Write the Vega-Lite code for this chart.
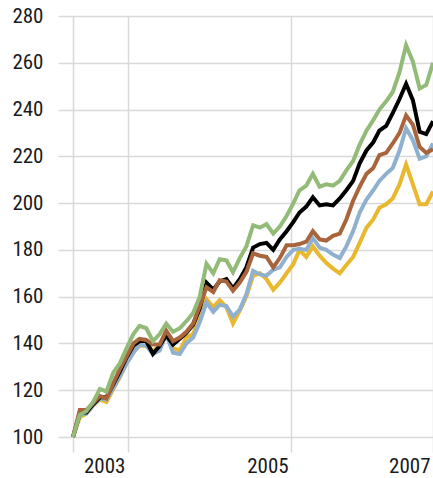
{
  "$schema": "https://vega.github.io/schema/vega-lite/v6.json",
  "width": 360,
  "height": 421,
  "autosize": {"type": "none"},
  "padding": {"left": 73, "top": 16, "right": 0, "bottom": 41},
  "background": "white",
  "config": {
    "view": {"stroke": null},
    "axis": {
      "labelFont": "Liberation Sans Narrow, Roboto Condensed, Arial Narrow, Roboto, sans-serif",
      "labelFontSize": 21,
      "labelColor": "#1a1a1a",
      "gridColor": "#d9d9d9",
      "gridWidth": 1.5,
      "tickColor": "#d9d9d9",
      "tickWidth": 1.5,
      "tickSize": 15,
      "domain": false,
      "title": null
    }
  },
  "data": {
    "values": [
      {"date": "2002-05-01", "Green": 100, "Black": 100, "Brown": 100, "Blue": 100, "Yellow": 100},
      {"date": "2002-06-01", "Green": 109.5, "Black": 110, "Brown": 111.5, "Blue": 109.5, "Yellow": 108.5},
      {"date": "2002-07-01", "Green": 111, "Black": 110.5, "Brown": 111.5, "Blue": 110, "Yellow": 110},
      {"date": "2002-08-01", "Green": 115, "Black": 114, "Brown": 114.5, "Blue": 113.5, "Yellow": 113.5},
      {"date": "2002-09-01", "Green": 120.5, "Black": 117, "Brown": 117.5, "Blue": 116.5, "Yellow": 116},
      {"date": "2002-10-01", "Green": 119.5, "Black": 117, "Brown": 116.5, "Blue": 116, "Yellow": 115},
      {"date": "2002-11-01", "Green": 127.5, "Black": 122.5, "Brown": 123, "Blue": 121, "Yellow": 120.5},
      {"date": "2002-12-01", "Green": 131.5, "Black": 128, "Brown": 129, "Blue": 126, "Yellow": 125.5},
      {"date": "2003-01-01", "Green": 138, "Black": 134, "Brown": 134.5, "Blue": 131.5, "Yellow": 131.5},
      {"date": "2003-02-01", "Green": 144, "Black": 139, "Brown": 140, "Blue": 136, "Yellow": 136.5},
      {"date": "2003-03-01", "Green": 147.5, "Black": 141, "Brown": 142, "Blue": 139.5, "Yellow": 139},
      {"date": "2003-04-01", "Green": 146.5, "Black": 141, "Brown": 141.5, "Blue": 139, "Yellow": 139},
      {"date": "2003-05-01", "Green": 141, "Black": 135.5, "Brown": 139.5, "Blue": 135.5, "Yellow": 137},
      {"date": "2003-06-01", "Green": 144, "Black": 139, "Brown": 139.5, "Blue": 137, "Yellow": 138.5},
      {"date": "2003-07-01", "Green": 148.5, "Black": 143.5, "Brown": 145.5, "Blue": 144, "Yellow": 144},
      {"date": "2003-08-01", "Green": 145, "Black": 139.5, "Brown": 141, "Blue": 136, "Yellow": 138},
      {"date": "2003-09-01", "Green": 146.5, "Black": 142, "Brown": 142.5, "Blue": 135.5, "Yellow": 137},
      {"date": "2003-10-01", "Green": 149.5, "Black": 144.5, "Brown": 145, "Blue": 140, "Yellow": 142.5},
      {"date": "2003-11-01", "Green": 153, "Black": 148, "Brown": 148.5, "Blue": 142.5, "Yellow": 144},
      {"date": "2003-12-01", "Green": 160, "Black": 155, "Brown": 156, "Blue": 149, "Yellow": 152},
      {"date": "2004-01-01", "Green": 174, "Black": 166, "Brown": 164, "Blue": 157.5, "Yellow": 159},
      {"date": "2004-02-01", "Green": 170, "Black": 163, "Brown": 162, "Blue": 153.5, "Yellow": 155.5},
      {"date": "2004-03-01", "Green": 176, "Black": 166.5, "Brown": 167, "Blue": 156.5, "Yellow": 158.5},
      {"date": "2004-04-01", "Green": 175.5, "Black": 167.5, "Brown": 166.5, "Blue": 156, "Yellow": 155.5},
      {"date": "2004-05-01", "Green": 170.5, "Black": 163.5, "Brown": 162.5, "Blue": 151.5, "Yellow": 148.5},
      {"date": "2004-06-01", "Green": 176.5, "Black": 167.5, "Brown": 166, "Blue": 154.5, "Yellow": 154},
      {"date": "2004-07-01", "Green": 181.5, "Black": 172.5, "Brown": 170.5, "Blue": 161, "Yellow": 160},
      {"date": "2004-08-01", "Green": 190.5, "Black": 181, "Brown": 178.5, "Blue": 171, "Yellow": 169},
      {"date": "2004-09-01", "Green": 189.5, "Black": 182.5, "Brown": 177.5, "Blue": 169.5, "Yellow": 170},
      {"date": "2004-10-01", "Green": 191, "Black": 183, "Brown": 177, "Blue": 169, "Yellow": 167.5},
      {"date": "2004-11-01", "Green": 187, "Black": 180, "Brown": 172.5, "Blue": 171.5, "Yellow": 163},
      {"date": "2004-12-01", "Green": 190, "Black": 184.5, "Brown": 176.5, "Blue": 172.5, "Yellow": 166},
      {"date": "2005-01-01", "Green": 194.5, "Black": 188, "Brown": 182, "Blue": 177, "Yellow": 170},
      {"date": "2005-02-01", "Green": 200, "Black": 192, "Brown": 182, "Blue": 180, "Yellow": 174},
      {"date": "2005-03-01", "Green": 205.5, "Black": 196, "Brown": 182.5, "Blue": 180.5, "Yellow": 180},
      {"date": "2005-04-01", "Green": 207.5, "Black": 198.5, "Brown": 183.5, "Blue": 180, "Yellow": 177},
      {"date": "2005-05-01", "Green": 212.5, "Black": 202.5, "Brown": 188, "Blue": 185, "Yellow": 181.5},
      {"date": "2005-06-01", "Green": 207, "Black": 199, "Brown": 184.5, "Blue": 181, "Yellow": 177.5},
      {"date": "2005-07-01", "Green": 208, "Black": 199.5, "Brown": 184, "Blue": 180, "Yellow": 174.5},
      {"date": "2005-08-01", "Green": 207.5, "Black": 199, "Brown": 186, "Blue": 178, "Yellow": 172},
      {"date": "2005-09-01", "Green": 209.5, "Black": 202, "Brown": 187, "Blue": 176.5, "Yellow": 170},
      {"date": "2005-10-01", "Green": 214, "Black": 205.5, "Brown": 193, "Blue": 181.5, "Yellow": 173.5},
      {"date": "2005-11-01", "Green": 218, "Black": 209.5, "Brown": 201, "Blue": 188, "Yellow": 177},
      {"date": "2005-12-01", "Green": 225, "Black": 217, "Brown": 207, "Blue": 196, "Yellow": 183},
      {"date": "2006-01-01", "Green": 231, "Black": 222.5, "Brown": 212.5, "Blue": 201.5, "Yellow": 189.5},
      {"date": "2006-02-01", "Green": 235.5, "Black": 226, "Brown": 215, "Blue": 205.5, "Yellow": 193},
      {"date": "2006-03-01", "Green": 240, "Black": 231, "Brown": 220.5, "Blue": 209.5, "Yellow": 198},
      {"date": "2006-04-01", "Green": 243.5, "Black": 233, "Brown": 221.5, "Blue": 212.5, "Yellow": 199.5},
      {"date": "2006-05-01", "Green": 247.5, "Black": 238.5, "Brown": 225.5, "Blue": 215, "Yellow": 202},
      {"date": "2006-06-01", "Green": 256, "Black": 244.5, "Brown": 230, "Blue": 222.5, "Yellow": 208},
      {"date": "2006-07-01", "Green": 267.5, "Black": 251, "Brown": 237.5, "Blue": 232, "Yellow": 216.5},
      {"date": "2006-08-01", "Green": 260.5, "Black": 244, "Brown": 233.5, "Blue": 227, "Yellow": 208},
      {"date": "2006-09-01", "Green": 249, "Black": 230.5, "Brown": 224, "Blue": 219, "Yellow": 199.5},
      {"date": "2006-10-01", "Green": 250.5, "Black": 229.5, "Brown": 221.5, "Blue": 220, "Yellow": 199.5},
      {"date": "2006-11-01", "Green": 260, "Black": 235, "Brown": 223, "Blue": 225.5, "Yellow": 205}
    ]
  },
  "transform": [
    {"fold": ["Yellow", "Blue", "Black", "Brown", "Green"], "as": ["series", "value"]}
  ],
  "mark": {"type": "line", "strokeWidth": 4},
  "encoding": {
    "x": {
      "field": "date",
      "type": "temporal",
      "scale": {"nice": false},
      "axis": {
        "values": [
          {"year": 2002, "month": 5, "date": 1},
          {"year": 2003, "month": 1, "date": 7},
          {"year": 2005, "month": 1, "date": 22},
          {"year": 2006, "month": 11, "date": 1}
        ],
        "labelExpr": "year(datum.value) == 2002 ? '' : month(datum.value) == 10 ? '2007' : timeFormat(datum.value, '%Y')",
        "grid": true,
        "labelAlign": "right",
        "labelBaseline": "top",
        "labelPadding": 3,
        "labelOffset": -3,
        "labelFlush": false,
        "labelOverlap": false,
        "labelBound": false
      }
    },
    "y": {
      "field": "value",
      "type": "quantitative",
      "scale": {"domain": [100, 280], "nice": false, "zero": false},
      "axis": {
        "values": [100, 120, 140, 160, 180, 200, 220, 240, 260, 280],
        "grid": true,
        "labelPadding": 15,
        "labelAlign": "right",
        "labelBaseline": "middle"
      }
    },
    "color": {
      "field": "series",
      "type": "nominal",
      "scale": {
        "domain": ["Yellow", "Blue", "Black", "Brown", "Green"],
        "range": ["#e9b82f", "#8fb1cf", "#000000", "#a8653c", "#92bb78"]
      },
      "legend": null
    }
  }
}
